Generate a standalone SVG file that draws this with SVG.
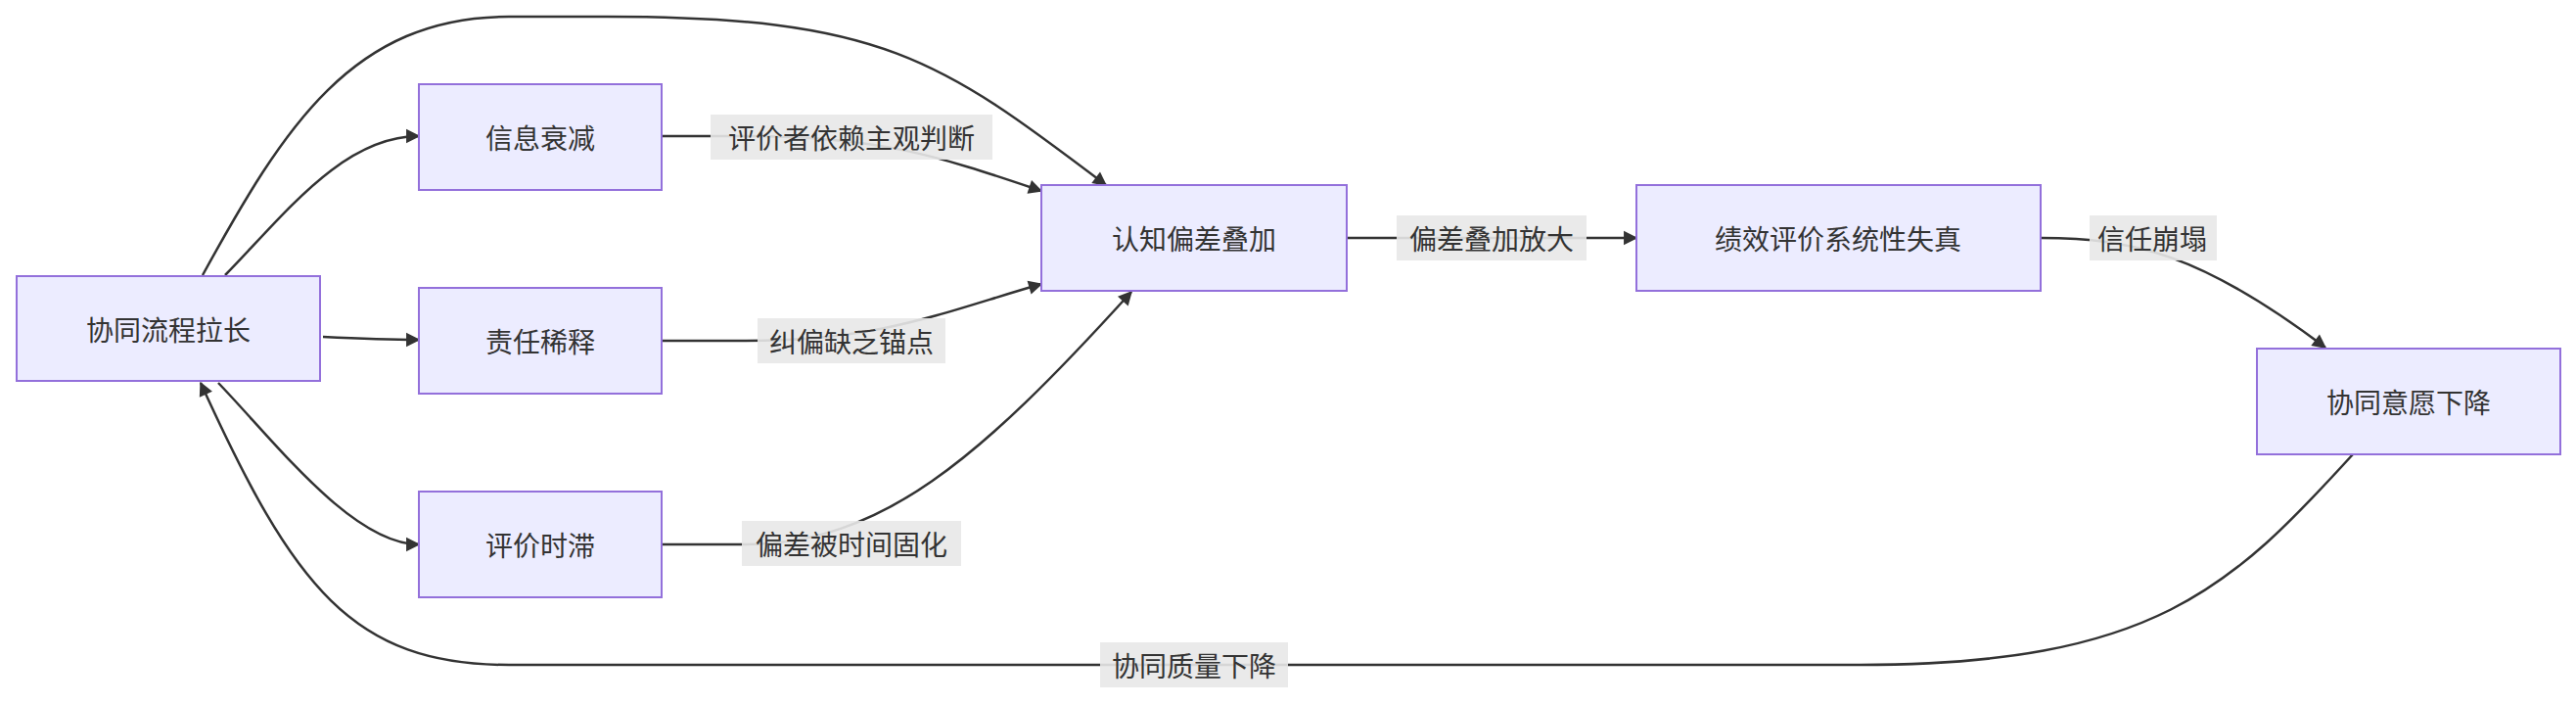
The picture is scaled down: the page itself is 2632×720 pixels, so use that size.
<svg xmlns="http://www.w3.org/2000/svg" width="2632" height="720" viewBox="0 0 2632 720">
<style>
.n rect{fill:#ECECFF;stroke:#9370DB;stroke-width:2}
text{font-family:"Noto Sans CJK SC","Liberation Sans",sans-serif;font-size:28px;fill:#333;text-anchor:middle;dominant-baseline:central}
.e path{fill:none;stroke:#333;stroke-width:2.5}
.lb rect{fill:#e8e8e8;opacity:0.9}
</style>
<defs><marker id="ah" viewBox="0 0 10 10" refX="9" refY="5" markerWidth="8" markerHeight="8" orient="auto" markerUnits="userSpaceOnUse" style="overflow:visible"><path d="M0,0L10,5L0,10z" fill="#333" transform="scale(1.8) translate(-4,-2.2)"/></marker></defs>
<g class="e">
<path d="M230,281 C290,220 350,139 428,139" marker-end="url(#ah)"/>
<path d="M330,344 C370,346 395,347 428,347" marker-end="url(#ah)"/>
<path d="M223,391 C280,450 360,556 428,556" marker-end="url(#ah)"/>
<path d="M207,281 C290,130 360,17 520,17 L620,17 C900,17 960,60 1130,189" marker-end="url(#ah)"/>
<path d="M676,139 L760,139 C900,139 960,160 1064,195" marker-end="url(#ah)"/>
<path d="M676,348 L760,348 C900,348 960,320 1064,290" marker-end="url(#ah)"/>
<path d="M676,556 L760,556 C900,556 1000,470 1156,298" marker-end="url(#ah)"/>
<path d="M1376,243 L1672,243" marker-end="url(#ah)"/>
<path d="M2085,243 C2180,243 2250,260 2376,355" marker-end="url(#ah)"/>
<path d="M2404,464 C2280,600 2200,679 1900,679 L520,679 C360,679 300,600 205,391" marker-end="url(#ah)"/>
</g>
<g class="lb">
<rect x="726" y="117" width="288" height="46"/><text x="870" y="140">评价者依赖主观判断</text>
<rect x="774" y="325" width="192" height="46"/><text x="870" y="348">纠偏缺乏锚点</text>
<rect x="758" y="532" width="224" height="46"/><text x="870" y="555">偏差被时间固化</text>
<rect x="1427" y="220" width="194" height="46"/><text x="1524" y="243">偏差叠加放大</text>
<rect x="2135" y="220" width="130" height="46"/><text x="2199" y="243">信任崩塌</text>
<rect x="1124" y="656" width="192" height="46"/><text x="1220" y="679">协同质量下降</text>
</g>
<g id="A" class="n"><rect x="17" y="282" width="310" height="107"/><text x="172" y="336">协同流程拉长</text></g>
<g id="B" class="n"><rect x="428" y="86" width="248" height="108"/><text x="552" y="140">信息衰减</text></g>
<g id="C" class="n"><rect x="428" y="294" width="248" height="108"/><text x="552" y="348">责任稀释</text></g>
<g id="D" class="n"><rect x="428" y="502" width="248" height="108"/><text x="552" y="556">评价时滞</text></g>
<g id="E" class="n"><rect x="1064" y="189" width="312" height="108"/><text x="1220" y="243">认知偏差叠加</text></g>
<g id="F" class="n"><rect x="1672" y="189" width="413" height="108"/><text x="1878" y="243">绩效评价系统性失真</text></g>
<g id="G" class="n"><rect x="2306" y="356" width="310" height="108"/><text x="2461" y="410">协同意愿下降</text></g>
</svg>
